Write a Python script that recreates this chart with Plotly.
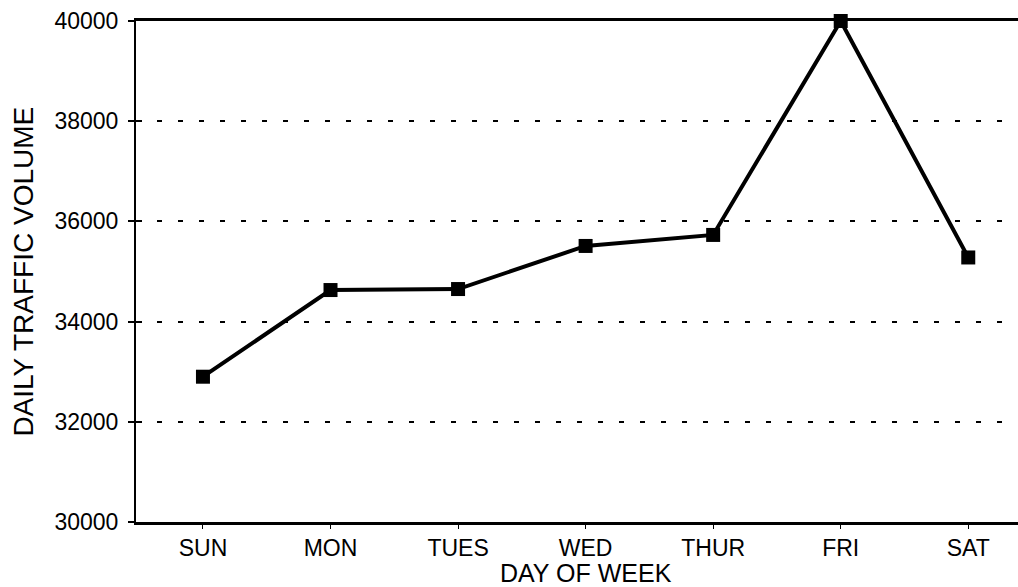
import plotly.graph_objects as go

days = ["SUN", "MON", "TUES", "WED", "THUR", "FRI", "SAT"]
volume = [32900, 34630, 34650, 35510, 35730, 40000, 35280]
y_ticks = [30000, 32000, 34000, 36000, 38000, 40000]

font_family = "Liberation Sans, Arial, sans-serif"

fig = go.Figure()
fig.add_trace(go.Scatter(
    x=list(range(len(days))),
    y=volume,
    mode="lines+markers",
    line=dict(color="black", width=4),
    marker=dict(symbol="square", size=14, color="black"),
    cliponaxis=False,
    showlegend=False,
))

fig.update_layout(
    width=1018,
    height=587,
    margin=dict(l=136, r=0, t=21, b=65),
    paper_bgcolor="white",
    plot_bgcolor="white",
    font=dict(family=font_family, color="black", size=23),
    xaxis=dict(
        range=[-0.525, 6.39],
        tickmode="array",
        tickvals=list(range(len(days))),
        ticktext=days,
        showline=True,
        linecolor="black",
        linewidth=2.5,
        mirror=True,
        ticks="outside",
        ticklen=4,
        tickwidth=1,
        tickcolor="black",
        showgrid=False,
        zeroline=False,
        tickfont=dict(size=23),
    ),
    yaxis=dict(
        range=[30000, 40000],
        tickmode="array",
        tickvals=y_ticks,
        ticktext=[str(v) for v in y_ticks],
        showline=True,
        linecolor="black",
        linewidth=2,
        ticks="outside",
        ticklen=6,
        tickwidth=1.5,
        tickcolor="black",
        showgrid=True,
        gridcolor="black",
        gridwidth=2,
        griddash="5px,16px",
        zeroline=False,
        tickfont=dict(size=23),
        ticklabelstandoff=5,
    ),
    yaxis2=dict(
        range=[30000, 40000],
        overlaying="y",
        anchor="x",
        tickmode="array",
        tickvals=y_ticks,
        ticks="inside",
        ticklen=6,
        tickwidth=1.5,
        tickcolor="black",
        showticklabels=False,
        showgrid=False,
        showline=False,
        zeroline=False,
    ),
    annotations=[
        dict(
            text="DAY OF WEEK",
            xref="paper", yref="paper",
            x=0.51, y=-0.102,
            xanchor="center", yanchor="middle",
            showarrow=False,
            font=dict(size=25),
        ),
        dict(
            text="DAILY TRAFFIC VOLUME",
            xref="paper", yref="paper",
            x=-0.128, y=0.5,
            xanchor="center", yanchor="middle",
            textangle=-90,
            showarrow=False,
            font=dict(size=28),
        ),
    ],
)

# invisible trace to activate the secondary y axis carrying inner tick marks
fig.add_trace(go.Scatter(x=[0], y=[30000], yaxis="y2", mode="markers",
                         marker=dict(opacity=0), showlegend=False, hoverinfo="skip"))

fig.write_html("out.html")
